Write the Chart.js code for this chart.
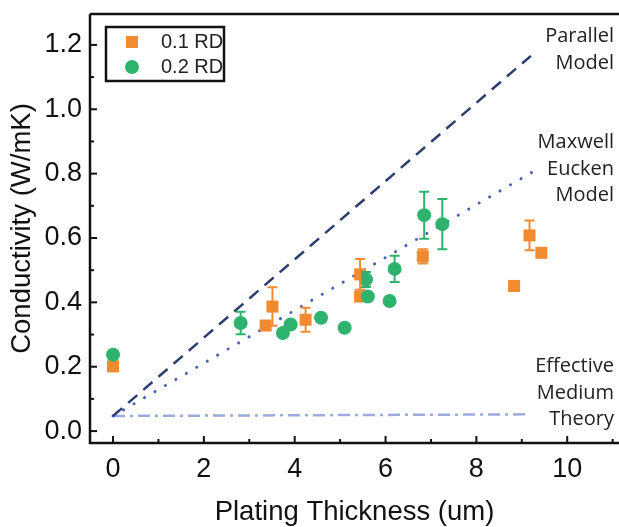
<!DOCTYPE html>
<html>
<head>
<meta charset="utf-8">
<script src="https://cdn.jsdelivr.net/npm/chart.js@4.4.1/dist/chart.umd.min.js"></script>
<style>
    html, body { margin: 0; padding: 0; background: #fff; }
    #wrap { width: 619px; height: 527px; position: relative; }
</style>
</head>
<body>
<div id="wrap"><canvas id="conductivity_plot"></canvas></div>
<script>
'use strict';

// measured points, 0.1 relative density
const rd1_x = [0, 3.36, 3.51, 4.24, 5.44, 5.44, 6.82, 8.83, 9.17, 9.43];
const rd1_y = [0.201, 0.328, 0.387, 0.346, 0.487, 0.418, 0.543, 0.451, 0.608, 0.554];
const rd1_err = [0, 0, 0.06, 0.037, 0.048, 0, 0.022, 0, 0.046, 0];

// measured points, 0.2 relative density
const rd2_x = [0, 2.81, 3.74, 3.91, 4.58, 5.10, 5.57, 5.61, 6.09, 6.20, 6.85, 7.25];
const rd2_y = [0.237, 0.336, 0.305, 0.331, 0.352, 0.321, 0.471, 0.418, 0.404, 0.504, 0.671, 0.643];
const rd2_err = [0, 0.035, 0, 0, 0, 0, 0.023, 0, 0, 0.041, 0.073, 0.078];

// model lines (end points)
const parallel_x = [0, 9.2];
const parallel_y = [0.047, 1.166];
const maxwell_x = [0, 9.32];
const maxwell_y = [0.047, 0.812];
const emt_x = [0, 9.17];
const emt_y = [0.047, 0.052];

const x_ticks = [0, 2, 4, 6, 8, 10];
const y_ticks = [0.0, 0.2, 0.4, 0.6, 0.8, 1.0, 1.2];

const model_labels = [
    {lines: ['Parallel', 'Model'], y: 42},
    {lines: ['Maxwell', 'Eucken', 'Model'], y: 148},
    {lines: ['Effective', 'Medium', 'Theory'], y: 372}
];

const ORANGE = '#f28b30';
const GREEN = '#2eb36e';

function pts(xs, ys) {
    return xs.map((x, i) => ({x: x, y: ys[i]}));
}

// frame, inward ticks, error bars, legend and model labels
const decorations = {
    id: 'decorations',
    beforeDatasetsDraw(chart) {
        const ctx = chart.ctx;
        const xs = chart.scales.x, ys = chart.scales.y;
        const a = chart.chartArea;
        ctx.save();
        ctx.strokeStyle = '#111';
        ctx.lineWidth = 2.5;
        ctx.beginPath();
        ctx.moveTo(a.left, a.top);
        ctx.lineTo(a.right, a.top);
        ctx.moveTo(a.left, a.top);
        ctx.lineTo(a.left, a.bottom);
        ctx.lineTo(a.right, a.bottom);
        ctx.stroke();
        ctx.lineWidth = 2;
        // x ticks
        for (let v = 0; v <= 11; v++) {
            const px = xs.getPixelForValue(v);
            const len = v % 2 === 0 ? 7 : 4;
            ctx.beginPath();
            ctx.moveTo(px, a.bottom);
            ctx.lineTo(px, a.bottom - len);
            ctx.stroke();
        }
        // y ticks
        for (let k = 0; k <= 12; k++) {
            const py = ys.getPixelForValue(k / 10);
            const len = k % 2 === 0 ? 7 : 4;
            ctx.beginPath();
            ctx.moveTo(a.left, py);
            ctx.lineTo(a.left + len, py);
            ctx.stroke();
        }
        ctx.restore();
    },
    afterDatasetsDraw(chart) {
        const ctx = chart.ctx;
        const xs = chart.scales.x, ys = chart.scales.y;
        ctx.save();
        ctx.lineWidth = 2;
        const bars = [[rd1_x, rd1_y, rd1_err, ORANGE], [rd2_x, rd2_y, rd2_err, GREEN]];
        bars.forEach(b => {
            ctx.strokeStyle = b[3];
            b[0].forEach((x, i) => {
                const e = b[2][i];
                if (!e) return;
                const px = xs.getPixelForValue(x);
                const top = ys.getPixelForValue(b[1][i] + e);
                const bot = ys.getPixelForValue(b[1][i] - e);
                ctx.beginPath();
                ctx.moveTo(px, top); ctx.lineTo(px, bot);
                ctx.moveTo(px - 5, top); ctx.lineTo(px + 5, top);
                ctx.moveTo(px - 5, bot); ctx.lineTo(px + 5, bot);
                ctx.stroke();
            });
        });

        // legend box
        ctx.strokeStyle = '#111';
        ctx.lineWidth = 2.5;
        ctx.strokeRect(106, 27, 118, 54);
        ctx.fillStyle = ORANGE;
        ctx.fillRect(126, 36, 12, 12);
        ctx.fillStyle = GREEN;
        ctx.beginPath();
        ctx.arc(132, 67, 7, 0, Math.PI * 2);
        ctx.fill();
        ctx.fillStyle = '#222';
        ctx.font = '20px "Liberation Sans", Arial, sans-serif';
        ctx.textBaseline = 'middle';
        ctx.textAlign = 'left';
        ctx.fillText('0.1 RD', 161, 42);
        ctx.fillText('0.2 RD', 161, 67);

        // model labels
        ctx.font = '20px "Open Sans", sans-serif';
        ctx.textAlign = 'right';
        ctx.textBaseline = 'alphabetic';
        ctx.fillStyle = '#222';
        model_labels.forEach(m => {
            m.lines.forEach((t, i) => ctx.fillText(t, 614, m.y + i * 26.5));
        });
        ctx.restore();
    }
};

const tickFont = {family: '"Liberation Sans", Arial, sans-serif', size: 27};
const titleFont = {family: '"Liberation Sans", Arial, sans-serif', size: 27.5};

const conductivity_plot = new Chart('conductivity_plot', {
    type: 'scatter',
    data: {
        datasets: [{
            label: '0.1 RD',
            data: pts(rd1_x, rd1_y),
            pointStyle: 'rect',
            pointRadius: 8.5,
            backgroundColor: ORANGE,
            borderWidth: 0,
            order: 2
        }, {
            label: '0.2 RD',
            data: pts(rd2_x, rd2_y),
            pointStyle: 'circle',
            pointRadius: 7,
            backgroundColor: GREEN,
            borderWidth: 0,
            order: 1
        }, {
            type: 'line',
            label: 'Parallel Model',
            data: pts(parallel_x, parallel_y),
            borderColor: '#2c3e70',
            borderWidth: 2.5,
            borderDash: [12, 8],
            pointRadius: 0,
            fill: false,
            order: 5
        }, {
            type: 'line',
            label: 'Maxwell Eucken Model',
            data: pts(maxwell_x, maxwell_y),
            borderColor: '#4862b8',
            borderWidth: 3,
            borderDash: [0.1, 12],
            borderCapStyle: 'round',
            pointRadius: 0,
            fill: false,
            order: 5
        }, {
            type: 'line',
            label: 'Effective Medium Theory',
            data: pts(emt_x, emt_y),
            borderColor: '#9cabdf',
            borderWidth: 2.5,
            borderDash: [12, 5, 3, 5],
            pointRadius: 0,
            fill: false,
            order: 5
        }]
    },
    options: {
        responsive: true,
        maintainAspectRatio: false,
        animation: false,
        layout: {autoPadding: false, padding: {top: 14, right: 0, left: 0, bottom: 0}},
        plugins: {
            legend: {display: false},
            tooltip: {enabled: false}
        },
        scales: {
            x: {
                type: 'linear',
                min: -0.507,
                max: 11.14,
                afterBuildTicks: s => { s.ticks = x_ticks.map(v => ({value: v})); },
                afterFit: s => { s.height = 84; s.paddingLeft = 0; s.paddingRight = 0; },
                grid: {display: false, drawTicks: false},
                border: {display: false},
                ticks: {color: '#111', font: tickFont, padding: 10},
                title: {display: true, text: 'Plating Thickness (um)', color: '#111', font: titleFont, padding: {top: 0, bottom: -2}}
            },
            y: {
                type: 'linear',
                min: -0.037,
                max: 1.296,
                afterBuildTicks: s => { s.ticks = y_ticks.map(v => ({value: v})); },
                afterFit: s => { s.width = 90; s.paddingTop = 0; s.paddingBottom = 0; },
                grid: {display: false, drawTicks: false},
                border: {display: false},
                ticks: {color: '#111', font: tickFont, padding: 8, callback: v => v.toFixed(1)},
                title: {display: true, text: 'Conductivity (W/mK)', color: '#111', font: titleFont, padding: {top: 6, bottom: 0}}
            }
        }
    },
    plugins: [decorations]
});
</script>
</body>
</html>
